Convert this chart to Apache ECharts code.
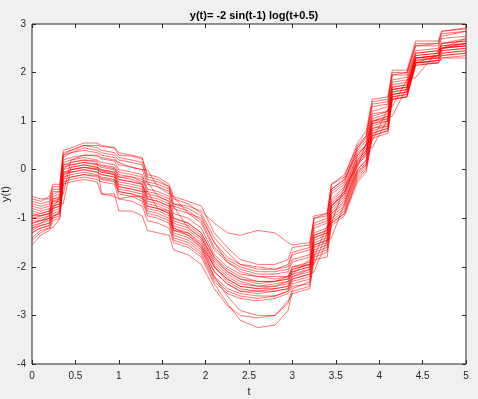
<!DOCTYPE html>
<html>
<head>
<meta charset="utf-8">
<script src="https://cdn.jsdelivr.net/npm/echarts@6/dist/echarts.min.js"></script>
<style>
  html, body { margin: 0; padding: 0; background: #f0f0f0; }
  #chart { width: 478px; height: 399px; }
</style>
</head>
<body>
<div id="chart"></div>
<script>
// sample times shared by all runs
const times = [0, 0.1, 0.2, 0.24, 0.32, 0.36, 0.45, 0.6, 0.75, 0.8, 0.95, 1.0, 1.15, 1.27, 1.33, 1.45, 1.58, 1.63, 1.8, 1.95, 2.1,
  2.25, 2.4, 2.6, 2.8, 2.95, 3.0, 3.2, 3.25, 3.4, 3.45, 3.6, 3.75, 3.85, 3.92, 4.1, 4.15, 4.32, 4.42, 4.68, 4.72, 5.0];

// y(t) of each run
const run01 = [-0.55, -0.6, -0.6, -0.35, -0.35, 0.35, 0.4, 0.5, 0.5, 0.48, 0.45, 0.3, 0.28, 0.22, -0.1, -0.15, -0.3, -0.55, -0.65, -0.75, -1.3, -1.6, -1.85, -1.95, -1.95, -1.85, -1.6, -1.55, -0.95, -0.9, -0.3, -0.1, 0.5, 0.7, 1.4, 1.45, 2.0, 2.0, 2.6, 2.6, 2.85, 2.9];
const run02 = [-1.55, -1.35, -1.25, -1.05, -1.0, -0.3, -0.25, -0.2, -0.25, -0.5, -0.5, -0.85, -0.85, -0.95, -1.25, -1.3, -1.35, -1.65, -1.75, -1.95, -2.45, -2.8, -3.0, -3.05, -3.0, -2.7, -2.55, -2.45, -1.85, -1.8, -1.15, -0.95, -0.25, -0.05, 0.65, 0.75, 1.45, 1.5, 2.15, 2.2, 2.3, 2.3];
const run03 = [-1.0, -1.0, -0.95, -0.7, -0.65, 0.05, 0.1, 0.15, 0.12, 0.08, 0.02, -0.15, -0.2, -0.28, -0.55, -0.6, -0.7, -1.05, -1.15, -1.35, -1.9, -2.15, -2.3, -2.4, -2.4, -2.3, -2.1, -2.0, -1.4, -1.3, -0.75, -0.5, 0.2, 0.4, 1.0, 1.1, 1.7, 1.75, 2.35, 2.4, 2.55, 2.6];
const run04 = [-0.8, -0.85, -0.8, -0.8, -0.55, -0.5, 0.2, 0.3, 0.3, 0.25, 0.2, 0.15, 0.05, 0.0, 0.0, -0.35, -0.5, -0.55, -0.9, -1.0, -1.5, -1.9, -2.1, -2.2, -2.2, -2.2, -2.15, -1.85, -1.8, -1.15, -1.1, -0.35, 0.05, 0.55, 0.6, 1.25, 1.3, 1.85, 1.9, 2.45, 2.5, 2.7];
const run05 = [-1.3, -1.2, -1.15, -0.95, -0.9, -0.15, -0.1, -0.05, -0.1, -0.15, -0.2, -0.45, -0.5, -0.6, -0.85, -0.9, -1.0, -1.35, -1.45, -1.65, -2.2, -2.45, -2.55, -2.6, -2.6, -2.5, -2.35, -2.25, -1.65, -1.55, -1.0, -0.8, -0.05, 0.15, 0.8, 0.9, 1.55, 1.6, 2.2, 2.25, 2.4, 2.45];
const run06 = [-0.7, -0.75, -0.7, -0.45, -0.45, 0.25, 0.35, 0.4, 0.35, 0.3, 0.25, 0.1, 0.05, 0.0, -0.3, -0.35, -0.45, -0.8, -0.9, -1.1, -1.65, -1.9, -2.05, -2.15, -2.15, -2.1, -1.9, -1.8, -1.2, -1.1, -0.5, -0.3, 0.4, 0.6, 1.2, 1.3, 1.85, 1.9, 2.45, 2.5, 2.7, 2.75];
const run07 = [-1.2, -1.1, -1.0, -1.0, -0.85, -0.2, 0.0, 0.05, 0.0, -0.05, -0.1, -0.35, -0.4, -0.45, -0.45, -0.8, -0.9, -1.25, -1.3, -1.55, -2.0, -2.3, -2.45, -2.5, -2.5, -2.45, -2.25, -2.15, -2.1, -1.45, -1.4, -0.7, 0.1, 0.3, 0.9, 1.0, 1.6, 1.65, 2.3, 2.3, 2.5, 2.55];
const run08 = [-0.9, -0.95, -0.9, -0.6, -0.6, 0.1, 0.15, 0.2, 0.15, -0.5, -0.55, -0.6, -0.55, -0.55, -0.75, -0.8, -0.85, -1.2, -1.3, -1.5, -2.0, -2.25, -2.4, -2.45, -2.45, -2.4, -2.2, -2.05, -1.5, -1.4, -0.85, -0.6, 0.1, 0.3, 0.95, 1.05, 1.65, 1.7, 2.3, 2.35, 2.5, 2.55];
const run09 = [-0.95, -0.9, -0.85, -0.6, -0.55, 0.15, 0.2, 0.25, 0.2, 0.15, 0.1, -0.05, -0.1, -0.15, -0.45, -0.5, -0.6, -0.7, -0.75, -0.85, -1.1, -1.3, -1.35, -1.25, -1.3, -1.5, -1.55, -1.5, -1.0, -0.95, -0.4, -0.2, 0.35, 0.5, 1.15, 1.2, 1.8, 1.85, 2.4, 2.45, 2.6, 2.65];
const run10 = [-1.45, -1.3, -1.2, -1.0, -0.95, -0.25, -0.2, -0.15, -0.2, -0.25, -0.3, -0.6, -0.65, -0.75, -1.05, -1.1, -1.2, -1.5, -1.6, -1.8, -2.35, -2.75, -3.1, -3.25, -3.2, -2.9, -2.5, -2.4, -1.8, -1.7, -1.1, -0.9, -0.2, 0.0, 0.7, 0.8, 1.45, 1.5, 2.15, 2.2, 2.3, 2.35];
const run11 = [-1.1, -1.05, -1.0, -0.8, -0.75, -0.05, 0.0, 0.05, 0.0, -0.05, -0.1, -0.3, -0.35, -0.4, -0.7, -0.75, -0.85, -1.2, -1.35, -1.6, -2.2, -2.6, -2.9, -3.0, -3.0, -2.75, -2.45, -2.3, -1.7, -1.6, -1.05, -0.85, -0.1, 0.1, 0.75, 0.85, 1.5, 1.55, 2.2, 2.25, 2.35, 2.4];
const run12 = [-0.6, -0.65, -0.55, -0.3, -0.3, 0.4, 0.45, 0.55, 0.55, 0.5, 0.45, 0.35, 0.3, 0.25, -0.15, -0.2, -0.35, -0.6, -0.7, -0.9, -1.4, -1.7, -1.95, -2.05, -2.05, -2.0, -1.75, -1.65, -1.1, -1.0, -0.4, -0.2, 0.45, 0.65, 1.3, 1.35, 1.95, 1.95, 2.55, 2.55, 2.75, 2.85];
const run13 = [-1.05, -1.05, -1.0, -0.75, -0.7, -0.7, 0.05, 0.1, 0.05, 0.0, -0.05, -0.2, -0.25, -0.3, -0.6, -0.65, -0.75, -0.75, -1.2, -1.4, -1.85, -2.1, -2.25, -2.35, -2.3, -2.25, -2.05, -1.95, -1.35, -1.25, -0.7, -0.45, 0.25, 0.45, 0.45, 1.05, 1.65, 1.7, 2.2, 2.35, 2.5, 2.6];
const run14 = [-1.25, -1.15, -1.1, -0.9, -0.85, -0.1, -0.05, 0.0, -0.05, -0.1, -0.15, -0.4, -0.45, -0.5, -0.8, -0.85, -0.95, -1.3, -1.4, -1.6, -2.1, -2.35, -2.5, -2.5, -2.45, -2.4, -2.2, -2.1, -1.55, -1.45, -0.9, -0.65, 0.0, 0.2, 0.85, 0.95, 1.55, 1.6, 2.25, 2.3, 2.45, 2.5];
const run15 = [-0.85, -0.9, -0.85, -0.55, -0.5, 0.2, 0.25, 0.3, 0.28, 0.22, 0.18, 0.0, -0.05, -0.1, -0.4, -0.45, -0.55, -0.9, -1.0, -1.2, -1.75, -2.0, -2.15, -2.2, -2.25, -2.2, -2.0, -1.9, -1.3, -1.2, -0.6, -0.35, 0.3, 0.5, 1.1, 1.2, 1.75, 1.8, 2.4, 2.45, 2.6, 2.7];
const run16 = [-1.4, -1.25, -1.2, -1.2, -1.0, -0.3, -0.15, -0.1, -0.15, -0.2, -0.25, -0.5, -0.55, -0.65, -0.95, -1.0, -1.1, -1.45, -1.55, -1.75, -2.3, -2.55, -2.65, -2.7, -2.65, -2.55, -2.4, -2.35, -1.75, -1.65, -1.1, -0.9, -0.15, 0.05, 0.7, 0.8, 1.45, 1.5, 2.2, 2.2, 2.35, 2.4];
const run17 = [-0.95, -0.95, -0.9, -0.65, -0.6, 0.0, 0.15, 0.2, 0.18, 0.1, 0.05, -0.1, -0.15, -0.2, -0.5, -0.55, -0.65, -1.0, -1.1, -1.3, -1.8, -2.1, -2.25, -2.3, -2.3, -2.25, -2.05, -1.95, -1.95, -1.3, -0.75, -0.45, 0.15, 0.35, 1.0, 1.1, 1.1, 1.7, 2.3, 2.35, 2.55, 2.6];
const run18 = [-1.15, -1.1, -1.05, -0.85, -0.8, -0.1, 0.0, 0.05, 0.02, -0.02, -0.08, -0.25, -0.3, -0.35, -0.65, -0.7, -0.8, -1.15, -1.25, -1.45, -2.0, -2.25, -2.4, -2.45, -2.4, -2.35, -2.15, -2.05, -1.45, -1.35, -0.8, -0.55, 0.15, 0.35, 0.95, 1.0, 1.6, 1.65, 2.3, 2.35, 2.5, 2.55];
const run19 = [-0.75, -0.8, -0.75, -0.5, -0.45, 0.3, 0.35, 0.45, 0.4, 0.35, 0.3, 0.2, 0.15, 0.1, -0.25, -0.3, -0.4, -0.75, -0.85, -1.05, -1.6, -1.85, -2.0, -2.1, -2.1, -2.05, -1.85, -1.75, -1.15, -1.05, -0.45, -0.25, 0.45, 0.7, 1.35, 1.4, 1.95, 2.0, 2.55, 2.6, 2.8, 2.85];
const run20 = [-1.3, -1.2, -1.15, -0.95, -0.9, -0.2, -0.15, -0.1, -0.12, -0.18, -0.22, -0.45, -0.5, -0.55, -0.9, -0.95, -1.05, -1.4, -1.5, -1.7, -2.25, -2.5, -2.6, -2.65, -2.6, -2.5, -2.3, -2.2, -1.6, -1.5, -0.95, -0.75, -0.05, 0.1, 0.75, 0.85, 1.5, 1.55, 2.2, 2.25, 2.4, 2.45];
const run21 = [-1.0, -0.95, -0.9, -0.65, -0.65, 0.1, 0.1, 0.15, 0.1, 0.05, 0.0, -0.15, -0.15, -0.25, -0.25, -0.55, -0.65, -1.0, -1.1, -1.3, -1.8, -2.05, -2.2, -2.3, -2.3, -2.2, -2.0, -1.95, -1.35, -1.25, -0.65, -0.4, 0.3, 0.5, 1.05, 1.15, 1.7, 1.75, 2.35, 2.4, 2.6, 2.65];
const run22 = [-1.2, -1.15, -1.1, -0.8, -0.75, -0.05, -0.05, 0.0, -0.05, -0.1, -0.15, -0.35, -0.4, -0.45, -0.75, -0.8, -0.9, -1.25, -1.35, -1.55, -2.1, -2.35, -2.5, -2.55, -2.5, -2.45, -2.25, -2.15, -1.55, -1.45, -0.9, -0.7, 0.0, 0.2, 0.85, 0.9, 1.55, 1.6, 2.25, 2.3, 2.45, 2.5];
const run23 = [-0.65, -0.7, -0.65, -0.4, -0.4, 0.3, 0.4, 0.5, 0.45, 0.4, 0.35, 0.25, 0.2, 0.15, -0.2, -0.25, -0.35, -0.7, -0.8, -0.95, -1.5, -1.8, -1.95, -2.0, -2.05, -1.95, -1.7, -1.6, -1.0, -0.9, -0.3, -0.15, 0.55, 0.8, 1.45, 1.5, 2.05, 2.05, 2.65, 2.65, 2.85, 2.92];
const run24 = [-1.1, -1.05, -0.95, -0.75, -0.7, 0.0, 0.05, 0.1, 0.05, 0.0, -0.05, -0.2, -0.25, -0.3, -0.6, -0.65, -0.75, -1.1, -1.2, -1.4, -1.95, -2.2, -2.35, -2.4, -2.35, -2.3, -2.1, -2.0, -1.4, -1.3, -0.75, -0.5, 0.2, 0.4, 1.0, 1.05, 1.65, 1.7, 2.3, 2.35, 2.5, 2.6];

const runs = [run01, run02, run03, run04, run05, run06, run07, run08, run09, run10, run11, run12,
  run13, run14, run15, run16, run17, run18, run19, run20, run21, run22, run23, run24];

const xTicks = ['0', '0.5', '1', '1.5', '2', '2.5', '3', '3.5', '4', '4.5', '5'];
const yTicks = ['-4', '-3', '-2', '-1', '0', '1', '2', '3'];

const chart = echarts.init(document.getElementById('chart'));

const axisColor = '#262626';
const fontFam = 'Liberation Sans, Arial, sans-serif';

function xAxisCfg(pos, showLabels) {
  return {
    type: 'value', position: pos, min: 0, max: 5, interval: 0.5,
    axisLine: { show: false, onZero: false },
    axisTick: { show: true, inside: true, length: 4, lineStyle: { color: axisColor } },
    splitLine: { show: false },
    axisLabel: {
      show: showLabels, margin: 7, color: axisColor, fontSize: 10, fontFamily: fontFam,
      formatter: v => xTicks[Math.round(v / 0.5)]
    },
    name: showLabels ? 't' : '', nameLocation: 'middle', nameGap: 22, nameMoveOverlap: false,
    nameTextStyle: { color: axisColor, fontSize: 11, fontFamily: fontFam }
  };
}

function yAxisCfg(pos, showLabels) {
  return {
    type: 'value', position: pos, min: -4, max: 3, interval: 1,
    axisLine: { show: false, onZero: false },
    axisTick: { show: true, inside: true, length: 4, lineStyle: { color: axisColor } },
    splitLine: { show: false },
    axisLabel: {
      show: showLabels, margin: 6, color: axisColor, fontSize: 10, fontFamily: fontFam,
      formatter: v => yTicks[Math.round(v + 4)]
    },
    name: showLabels ? 'y(t)' : '', nameLocation: 'middle', nameGap: 21, nameMoveOverlap: false,
    nameTextStyle: { color: axisColor, fontSize: 11, fontFamily: fontFam }
  };
}

const option = {
  animation: false,
  backgroundColor: '#f0f0f0',
  title: {
    text: 'y(t)= -2 sin(t-1) log(t+0.5)',
    left: 249, top: 5, textAlign: 'center',
    textStyle: { color: '#000', fontSize: 11, fontWeight: 'bold', fontFamily: fontFam }
  },
  grid: {
    left: 32, right: 12, top: 24, bottom: 35,
    containLabel: false, outerBoundsMode: 'none',
    show: true, backgroundColor: '#fff', borderColor: axisColor, borderWidth: 1
  },
  xAxis: [xAxisCfg('bottom', true), xAxisCfg('top', false)],
  yAxis: [yAxisCfg('left', true), yAxisCfg('right', false)],
  series: runs.map(r => ({
    type: 'line',
    showSymbol: false,
    silent: true,
    data: times.map((t, i) => [t, r[i]]),
    lineStyle: { color: 'rgba(255,0,0,0.55)', width: 1 }
  }))
};

chart.setOption(option);
</script>
</body>
</html>
